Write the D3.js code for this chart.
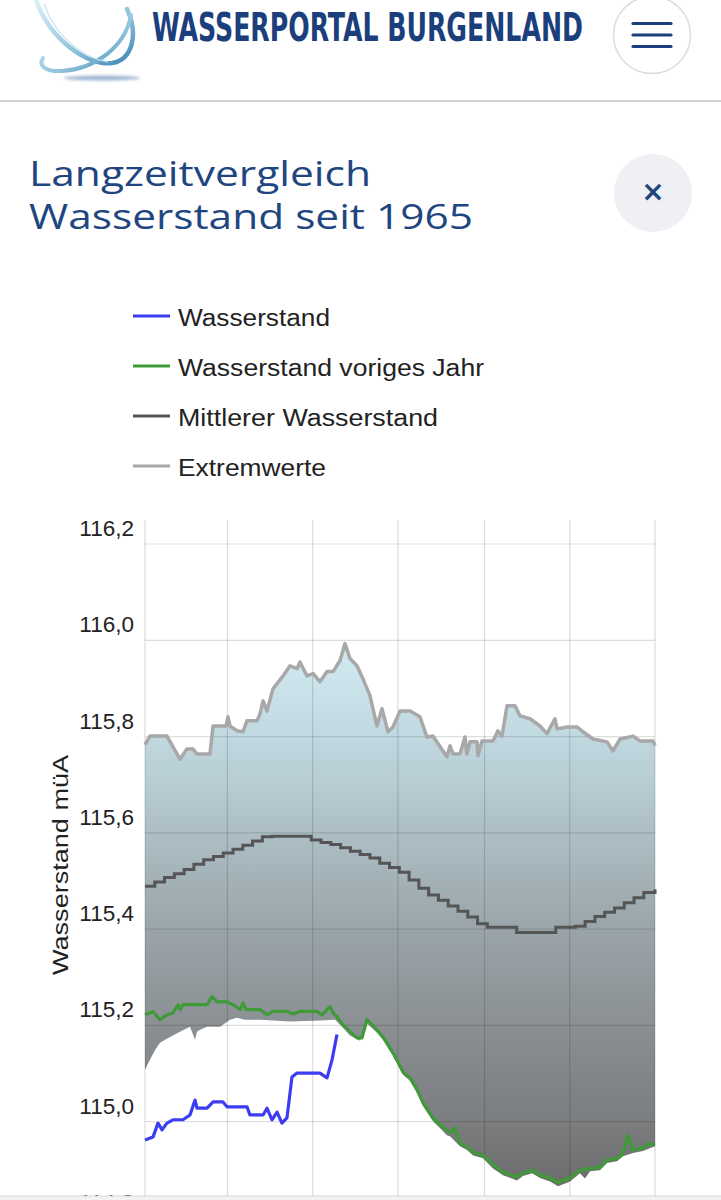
<!DOCTYPE html>
<html><head><meta charset="utf-8">
<script src="https://cdn.jsdelivr.net/npm/d3@7"></script>
<style>body{margin:0;background:#fff;} svg{display:block}</style>
</head><body>
<svg id="c" width="721" height="1200"></svg>
<script>
// ---------- data ----------
const brandTitle = "WASSERPORTAL BURGENLAND";
const titleLines = ["Langzeitvergleich", "Wasserstand seit 1965"];
const legendLabels = ["Wasserstand", "Wasserstand voriges Jahr", "Mittlerer Wasserstand", "Extremwerte"];
const yAxisTitle = "Wasserstand müA";
const yTicks = [114.8, 115.0, 115.2, 115.4, 115.6, 115.8, 116.0, 116.2];
const gridDays = [0, 59, 120, 181, 243, 304, 365];

const extremeMax = [[0,115.783],[3.6,115.801],[15.7,115.801],[25,115.753],[30,115.774],[34.4,115.774],[37.2,115.764],[46.5,115.764],[48.7,115.822],[58,115.822],[59.4,115.841],[60.8,115.822],[65.8,115.812],[70.1,115.810],[73,115.833],[80.2,115.833],[82.3,115.847],[84.5,115.874],[87.3,115.853],[91.6,115.899],[98.8,115.926],[103.8,115.947],[108.8,115.941],[110.9,115.955],[115.9,115.926],[120.2,115.931],[125.2,115.914],[130.3,115.935],[134.6,115.935],[139.6,115.958],[143.1,115.993],[146.7,115.962],[151.7,115.947],[156,115.920],[161,115.885],[166,115.822],[169.6,115.858],[173.9,115.810],[177.5,115.820],[182.5,115.853],[189.7,115.853],[196.8,115.841],[201.8,115.799],[206.1,115.801],[213.3,115.770],[216.1,115.758],[218.3,115.781],[220.4,115.764],[225.4,115.764],[229,115.799],[230.4,115.764],[232.6,115.789],[237.6,115.789],[238.3,115.760],[241.2,115.791],[249.1,115.791],[252.6,115.812],[255.5,115.801],[259.1,115.864],[264.8,115.864],[268.4,115.843],[275.5,115.837],[282.7,115.822],[287.7,115.806],[293.4,115.837],[294.9,115.816],[302,115.820],[309.2,115.820],[313.5,115.810],[320.6,115.795],[330.7,115.789],[334.9,115.770],[340,115.795],[349.3,115.801],[354.3,115.791],[363.6,115.791],[365,115.781]];

const extremeMin = [[0,115.108],[3.6,115.129],[7.2,115.149],[10.7,115.164],[17.9,115.176],[25,115.187],[32.2,115.197],[35.8,115.170],[37.2,115.187],[39.4,115.191],[44.4,115.197],[53.7,115.197],[60.8,115.212],[65.8,115.216],[71.6,115.212],[82.3,115.212],[103.8,115.208],[125.2,115.210],[136,115.212],[141.7,115.195],[146.7,115.179],[153.9,115.168],[158.9,115.204],[166,115.185],[170.3,115.170],[177.5,115.137],[184.7,115.097],[189.7,115.085],[194.7,115.060],[199,115.032],[206.1,115.001],[211.1,114.987],[216,114.972],[218.3,114.970],[225.4,114.949],[230.4,114.941],[234.8,114.930],[241.9,114.924],[249.1,114.903],[256.2,114.889],[266.2,114.878],[270.5,114.887],[277,114.893],[282.7,114.883],[289.9,114.876],[295.6,114.866],[304.2,114.876],[311.3,114.893],[314.9,114.882],[318.5,114.897],[325.6,114.899],[330.7,114.914],[337.8,114.918],[342.1,114.928],[349.3,114.935],[356.4,114.939],[365,114.949]];

const meanLevel = [[0,115.489],[7,115.498],[14,115.507],[21,115.515],[28,115.524],[35,115.535],[42,115.544],[49,115.551],[56,115.558],[63,115.566],[70,115.574],[77,115.583],[84,115.592],[91,115.593],[98,115.593],[105,115.593],[112,115.593],[119,115.585],[126,115.580],[133,115.576],[140,115.569],[147,115.562],[154,115.555],[161,115.548],[168,115.537],[175,115.528],[182,115.518],[189,115.502],[196,115.485],[203,115.471],[210,115.460],[217,115.448],[224,115.437],[231,115.425],[238,115.411],[245,115.404],[252,115.404],[259,115.404],[266,115.393],[273,115.393],[280,115.393],[287,115.393],[294,115.404],[301,115.404],[308,115.406],[315,115.416],[322,115.426],[329,115.435],[336,115.444],[343,115.455],[350,115.465],[357,115.476],[365,115.483]];

const previousYear = [[0,115.222],[5.7,115.229],[10.7,115.212],[15.7,115.222],[20,115.226],[23.6,115.243],[25,115.233],[27.2,115.243],[44.4,115.243],[48,115.260],[51.5,115.249],[58.7,115.249],[63,115.243],[68,115.233],[70.1,115.247],[72.3,115.233],[82.3,115.233],[87.3,115.222],[91.6,115.229],[101.6,115.229],[105.9,115.224],[110.9,115.229],[123.1,115.229],[126.7,115.222],[132.4,115.239],[134.6,115.226],[137.4,115.218],[141.7,115.201],[146.7,115.187],[151.7,115.174],[155.3,115.174],[158.9,115.212],[166,115.191],[170.3,115.176],[177.5,115.143],[184.7,115.103],[189.7,115.091],[194.7,115.066],[199,115.039],[206.1,115.008],[211.1,114.993],[218.3,114.977],[221.9,114.987],[225.4,114.955],[230.4,114.947],[234.8,114.937],[241.9,114.930],[249.1,114.910],[256.2,114.895],[266.2,114.885],[270.5,114.893],[277,114.899],[282.7,114.889],[289.9,114.883],[295.6,114.874],[304.2,114.883],[311.3,114.899],[318.5,114.903],[325.6,114.905],[330.7,114.920],[337.8,114.924],[342.1,114.934],[345.7,114.972],[349.3,114.941],[356.4,114.945],[361.4,114.955],[365,114.951]];

const currentYear = [[0,114.962],[5.7,114.968],[9.3,114.997],[12.2,114.983],[15.7,114.997],[20,115.004],[27.2,115.004],[32.2,115.014],[35.8,115.045],[37.2,115.028],[44.4,115.028],[48.7,115.041],[55.8,115.041],[58.7,115.031],[73,115.031],[75.1,115.014],[84.5,115.014],[87.3,115.028],[90.9,115.004],[94.5,115.020],[98,114.997],[101.6,115.008],[105.2,115.093],[108.8,115.101],[125.2,115.101],[130.3,115.091],[133.8,115.128],[137.4,115.181]];

const seriesColors = ["#3c3cf2", "#3f9a38", "#555555", "#a8a8a8"];

// ---------- drawing ----------
const svg = d3.select("#c");
const defs = svg.append("defs");

// header logo
const lg = defs.append("linearGradient").attr("id","logoG").attr("x1","0").attr("y1","0").attr("x2","1").attr("y2","1");
lg.append("stop").attr("offset","0").attr("stop-color","#dcf0f7");
lg.append("stop").attr("offset","0.6").attr("stop-color","#8fc3dc");
lg.append("stop").attr("offset","1").attr("stop-color","#3f84b4");
const blur = defs.append("filter").attr("id","bl").attr("x","-50%").attr("y","-200%").attr("width","200%").attr("height","500%");
blur.append("feGaussianBlur").attr("stdDeviation","1.8");
svg.append("ellipse").attr("cx",102).attr("cy",78).attr("rx",38).attr("ry",2.5).attr("fill","#7f9cc4").attr("opacity",0.75).attr("filter","url(#bl)");
svg.append("path").attr("d","M36,0 C50,40 88,66 112,63 C132,60 139,35 127,9").attr("fill","none").attr("stroke","url(#logoG)").attr("stroke-width",4.5).attr("stroke-linecap","round");
svg.append("path").attr("d","M131,15 C125,48 94,69 62,71 C46,72 38,66 43,58").attr("fill","none").attr("stroke","url(#logoG)").attr("stroke-width",4).attr("stroke-linecap","round");
svg.append("path").attr("d","M44,4 C56,38 84,58 108,62").attr("fill","none").attr("stroke","#c4e2ee").attr("stroke-width",1.5).attr("opacity",0.8);

svg.append("text").attr("x",152).attr("y",41).text(brandTitle)
  .attr("font-family","'Liberation Sans Narrow','DejaVu Sans Condensed',sans-serif")
  .attr("font-weight","bold").attr("font-size",39).attr("fill","#1b3f7d")
  .attr("textLength",431).attr("lengthAdjust","spacingAndGlyphs");

svg.append("circle").attr("cx",652).attr("cy",35).attr("r",38.5).attr("fill","#fff").attr("stroke","#dcdcdc").attr("stroke-width",1.5);
[23.5,35,46.5].forEach(yy => svg.append("line").attr("x1",633).attr("x2",671).attr("y1",yy).attr("y2",yy)
  .attr("stroke","#1b3f7d").attr("stroke-width",3.2).attr("stroke-linecap","round"));
svg.append("rect").attr("x",0).attr("y",100).attr("width",721).attr("height",2).attr("fill","#d0d0d0");

// title
svg.selectAll("text.title").data(titleLines).join("text").attr("class","title")
  .attr("x",29).attr("y",(d,i)=>186+i*43).text(d=>d)
  .attr("font-family","'Open Sans',sans-serif").attr("font-size",35.5).attr("fill","#1f4680")
  .attr("textLength",(d,i)=>i===0?342:444).attr("lengthAdjust","spacingAndGlyphs");
svg.append("circle").attr("cx",653).attr("cy",193).attr("r",39).attr("fill","#eef0f3");
svg.append("text").attr("x",653).attr("y",201).attr("text-anchor","middle").text("×")
  .attr("font-family","'DejaVu Sans',sans-serif").attr("font-weight","bold").attr("font-size",28).attr("fill","#1f4680");

// legend
const legY = [316, 366, 416, 466];
const legW = [152, 306, 260, 148];
const leg = svg.append("g");
legendLabels.forEach((lab,i) => {
  leg.append("line").attr("x1",133).attr("x2",170).attr("y1",legY[i]).attr("y2",legY[i])
    .attr("stroke",seriesColors[i]).attr("stroke-width",3);
  leg.append("text").attr("x",178).attr("y",legY[i]+10).text(lab)
    .attr("font-family","'Liberation Sans',Arial,sans-serif").attr("font-size",23.5).attr("fill","#222")
    .attr("textLength",legW[i]).attr("lengthAdjust","spacingAndGlyphs");
});

// chart scales
const x = d3.scaleLinear().domain([0,365]).range([145,655]);
const y = d3.scaleLinear().domain([115.0,116.2]).range([1121.7,544]);

// area gradient
const ag = defs.append("linearGradient").attr("id","areaG").attr("gradientUnits","userSpaceOnUse")
  .attr("x1",0).attr("x2",0).attr("y1",y(116.0)).attr("y2",y(114.85));
[["0","#d3ebf3"],["0.17","#c1d9e1"],["0.35","#acbec4"],["0.52","#9aa5aa"],["0.7","#8a8f92"],["0.87","#7b7d7f"],["1","#6a6a6a"]]
  .forEach(s => ag.append("stop").attr("offset",s[0]).attr("stop-color",s[1]));

const line = d3.line().x(d=>x(d[0])).y(d=>y(d[1]));
const areaPts = extremeMax.concat(extremeMin.slice().reverse());
svg.append("path").attr("d", line(areaPts) + "Z").attr("fill","url(#areaG)");

// grid on top (semi transparent)
const grid = svg.append("g");
grid.selectAll("line.h").data(yTicks).join("line").attr("class","h")
  .attr("x1",x(0)).attr("x2",x(365)).attr("y1",d=>y(d)).attr("y2",d=>y(d))
  .attr("stroke","#000").attr("stroke-opacity",0.13).attr("stroke-width",1.2);
grid.selectAll("line.v").data(gridDays).join("line").attr("class","v")
  .attr("x1",d=>x(d)).attr("x2",d=>x(d)).attr("y1",520).attr("y2",1200)
  .attr("stroke","#000").attr("stroke-opacity",0.14).attr("stroke-width",1.2);

// series lines
svg.append("path").attr("d",line(extremeMax)).attr("fill","none").attr("stroke",seriesColors[3]).attr("stroke-width",3.5).attr("stroke-linejoin","round");
svg.append("path").attr("d",d3.line().x(d=>x(d[0])).y(d=>y(d[1])).curve(d3.curveStepAfter)(meanLevel))
  .attr("fill","none").attr("stroke",seriesColors[2]).attr("stroke-width",3);
svg.append("path").attr("d",line(previousYear)).attr("fill","none").attr("stroke",seriesColors[1]).attr("stroke-width",3.2).attr("stroke-linejoin","round");
svg.append("path").attr("d",line(currentYear)).attr("fill","none").attr("stroke",seriesColors[0]).attr("stroke-width",3.2).attr("stroke-linejoin","round");

// y axis labels
svg.selectAll("text.yt").data(yTicks).join("text").attr("class","yt")
  .attr("x",134).attr("y",d=>y(d)-8).attr("text-anchor","end")
  .text(d=>d3.format(".1f")(d).replace(".",","))
  .attr("font-family","'Liberation Sans',Arial,sans-serif").attr("font-size",22.5).attr("fill","#222");
svg.append("text").attr("transform","translate(68,865) rotate(-90)").attr("text-anchor","middle")
  .text(yAxisTitle).attr("font-family","'Liberation Sans',Arial,sans-serif").attr("font-size",22.5).attr("fill","#222")
  .attr("textLength",220).attr("lengthAdjust","spacingAndGlyphs");

// bottom browser bar
svg.append("rect").attr("x",0).attr("y",1196).attr("width",721).attr("height",4).attr("fill","#f3f3f3");
svg.append("line").attr("x1",0).attr("x2",721).attr("y1",1196).attr("y2",1196).attr("stroke","#d6d6d6").attr("stroke-width",1);
</script>
</body></html>
